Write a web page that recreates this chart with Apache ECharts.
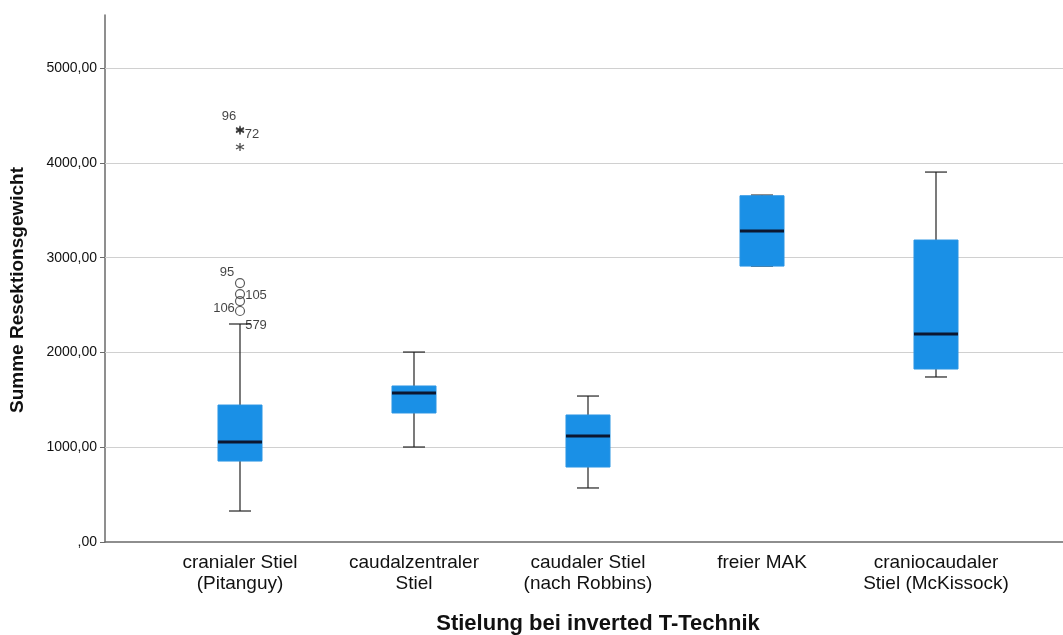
<!DOCTYPE html>
<html>
<head>
<meta charset="utf-8">
<script src="https://cdn.jsdelivr.net/npm/echarts@6/dist/echarts.min.js"></script>
<style>
  html, body { margin: 0; padding: 0; background: #fff; }
  #chart { width: 1063px; height: 635px; }
</style>
</head>
<body>
<div id="chart"></div>
<script>
// ---- data ----
const categories = ['cranialer Stiel\n(Pitanguy)', 'caudalzentraler\nStiel', 'caudaler Stiel\n(nach Robbins)', 'freier MAK', 'craniocaudaler\nStiel (McKissock)'];
const lowWhisker  = [327, 1002, 570, 2911, 1741];
const q1Values    = [854, 1361, 791, 2911, 1825];
const medianValues= [1055, 1572, 1118, 3281, 2194];
const q3Values    = [1445, 1646, 1340, 3653, 3186];
const highWhisker = [2300, 2004, 1540, 3660, 3903];

const outlierValues = [2732, 2616, 2542, 2437];
const outlierLabels = ['95', '105', '', '106'];
const extremeValues = [4350, 4340, 4167];
const extremeLabels = ['96', '72', ''];
const whiskerCaseValue = [2300];
const whiskerCaseLabel = ['579'];

const yTicks = [0, 1000, 2000, 3000, 4000, 5000];
const yMax = 5560;

// ---- styling (kept separate from data) ----
const FONT = '"Liberation Sans", Arial, sans-serif';
const outlierOffsets = [[-13, -11], [16, 1], [0, 0], [-16, -3]];
const extremeOffsets = [[-11, -13], [12, 4], [0, 0]];
const whiskerCaseOffsets = [[16, 1]];

const boxData = categories.map((c, i) => [i, lowWhisker[i], q1Values[i], medianValues[i], q3Values[i], highWhisker[i]]);

function pointItems(values, labels, offsets) {
  return values.map((v, i) => ({
    value: [0, v],
    label: { show: labels[i] !== '', formatter: labels[i], position: 'inside', offset: offsets[i] }
  }));
}

const chart = echarts.init(document.getElementById('chart'), null, { renderer: 'canvas' });

const option = {
  animation: false,
  backgroundColor: '#ffffff',
  grid: [
    { left: 105, right: 0, top: 15, bottom: 93 },
    { left: 153, right: 40, top: 15, bottom: 93 }
  ],
  xAxis: [
    { type: 'value', gridIndex: 0, min: 0, max: 1,
      axisLine: { show: true, lineStyle: { color: '#6a6a6a', width: 1.5 } },
      axisTick: { show: false }, axisLabel: { show: false }, splitLine: { show: false } },
    { type: 'category', gridIndex: 1, data: categories, boundaryGap: true,
      axisLine: { show: false }, axisTick: { show: false }, splitLine: { show: false },
      axisLabel: { margin: 10, fontSize: 19, lineHeight: 21, color: '#111', fontFamily: FONT, interval: 0 } }
  ],
  yAxis: [
    { type: 'value', gridIndex: 0, min: 0, max: yMax, interval: 1000,
      axisLine: { show: true, lineStyle: { color: '#6a6a6a', width: 1.5 } },
      axisTick: { show: true, length: 5, customValues: yTicks, lineStyle: { color: '#6a6a6a' } },
      axisLabel: { fontSize: 14, color: '#111', fontFamily: FONT, margin: 8, customValues: yTicks,
        formatter: v => v === 0 ? ',00' : v.toFixed(2).replace('.', ',') },
      splitLine: { show: false } },
    { type: 'value', gridIndex: 1, min: 0, max: yMax, show: false, splitLine: { show: false } }
  ],
  graphic: [
    { type: 'text', x: 18, y: 290, rotation: Math.PI / 2,
      style: { text: 'Summe Resektionsgewicht', font: 'bold 19px ' + FONT, fill: '#111', align: 'center', verticalAlign: 'middle' } },
    { type: 'text', x: 598, y: 624,
      style: { text: 'Stielung bei inverted T-Technik', font: 'bold 22px ' + FONT, fill: '#111', align: 'center', verticalAlign: 'middle' } }
  ],
  series: [
    {
      type: 'line', xAxisIndex: 0, yAxisIndex: 0, data: [], silent: true, z: 1,
      markLine: {
        silent: true, z: 1, symbol: ['none', 'none'], label: { show: false }, animation: false,
        lineStyle: { color: '#d0d0d0', type: 'solid', width: 1 },
        data: yTicks.filter(v => v > 0).map(v => ({ yAxis: v }))
      }
    },
    {
      type: 'custom', xAxisIndex: 1, yAxisIndex: 1, data: boxData, z: 6,
      renderItem: function (params, api) {
        const x = api.value(0);
        const low = api.coord([x, api.value(1)]);
        const q1 = api.coord([x, api.value(2)]);
        const med = api.coord([x, api.value(3)]);
        const q3 = api.coord([x, api.value(4)]);
        const high = api.coord([x, api.value(5)]);
        const band = api.size([1, 0])[0];
        const bw = band * 0.253;
        const cw = bw / 2;
        const cx = q1[0];
        const lineStyle = { stroke: '#222', lineWidth: 1.2 };
        return {
          type: 'group',
          children: [
            { type: 'line', shape: { x1: cx, y1: high[1], x2: cx, y2: q3[1] }, style: lineStyle },
            { type: 'line', shape: { x1: cx, y1: q1[1], x2: cx, y2: low[1] }, style: lineStyle },
            { type: 'line', shape: { x1: cx - cw / 2, y1: high[1], x2: cx + cw / 2, y2: high[1] }, style: lineStyle },
            { type: 'line', shape: { x1: cx - cw / 2, y1: low[1], x2: cx + cw / 2, y2: low[1] }, style: lineStyle },
            { type: 'rect', shape: { x: cx - bw / 2, y: q3[1], width: bw, height: q1[1] - q3[1] },
              style: { fill: '#1a90e6', stroke: '#2a95e4', lineWidth: 1 } },
            { type: 'line', shape: { x1: cx - bw / 2, y1: med[1], x2: cx + bw / 2, y2: med[1] },
              style: { stroke: '#0c1730', lineWidth: 3 } }
          ]
        };
      }
    },
    {
      type: 'scatter', xAxisIndex: 1, yAxisIndex: 1, z: 7,
      symbol: 'circle', symbolSize: 9,
      itemStyle: { color: 'rgba(0,0,0,0)', borderColor: '#333', borderWidth: 1.2 },
      label: { fontSize: 13, color: '#111', fontFamily: FONT },
      data: pointItems(outlierValues, outlierLabels, outlierOffsets)
    },
    {
      type: 'scatter', xAxisIndex: 1, yAxisIndex: 1, z: 7,
      symbol: 'path://M5 0 L5 10 M0.67 2.5 L9.33 7.5 M0.67 7.5 L9.33 2.5', symbolSize: 8,
      itemStyle: { color: 'rgba(0,0,0,0)', borderColor: '#222', borderWidth: 1.3 },
      label: { fontSize: 13, color: '#111', fontFamily: FONT },
      data: pointItems(extremeValues, extremeLabels, extremeOffsets)
    },
    {
      type: 'scatter', xAxisIndex: 1, yAxisIndex: 1, z: 7,
      symbol: 'circle', symbolSize: 1,
      itemStyle: { color: 'rgba(0,0,0,0)' },
      label: { fontSize: 13, color: '#111', fontFamily: FONT },
      data: pointItems(whiskerCaseValue, whiskerCaseLabel, whiskerCaseOffsets)
    }
  ]
};

chart.setOption(option);
</script>
</body>
</html>
